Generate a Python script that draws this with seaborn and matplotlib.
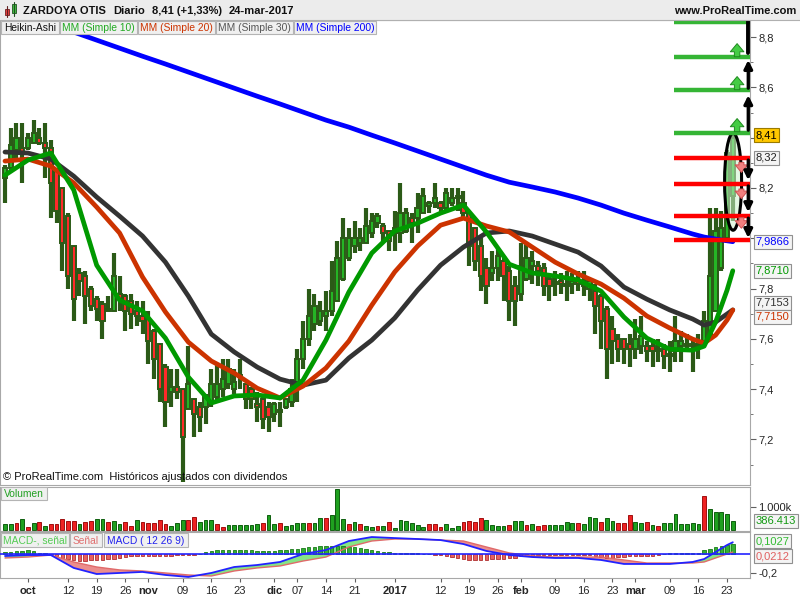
import numpy as np
import pandas as pd
import matplotlib
matplotlib.use("Agg")
import matplotlib.pyplot as plt
from matplotlib.patches import Rectangle, Ellipse
from matplotlib.ticker import MultipleLocator
import seaborn as sns

sns.set_style("white")
plt.rcParams["font.family"] = ["Liberation Sans", "DejaVu Sans"]
plt.rcParams["font.size"] = 8

# ---------------- data ----------------
trading_days = pd.bdate_range("2016-09-27", "2017-03-24").drop(pd.Timestamp("2016-12-26"))

ha_open = [8.24, 8.28, 8.35, 8.36, 8.36, 8.38, 8.40, 8.38, 8.36, 8.27,
           8.20, 8.09, 7.97, 7.86, 7.85, 7.80, 7.76, 7.74, 7.71, 7.71,
           7.78, 7.77, 7.75, 7.71, 7.69, 7.68, 7.63, 7.58, 7.49, 7.39,
           7.41, 7.40, 7.32, 7.36, 7.33, 7.33, 7.35, 7.37, 7.40, 7.42,
           7.40, 7.45, 7.42, 7.40, 7.34, 7.36, 7.33, 7.30, 7.31, 7.33,
           7.35, 7.40, 7.52, 7.60, 7.66, 7.67, 7.69, 7.71, 7.75, 7.84,
           7.92, 7.97, 7.98, 7.98, 8.02, 8.06, 8.05, 8.03, 8.02, 8.02,
           8.03, 8.08, 8.08, 8.10, 8.13, 8.14, 8.14, 8.12, 8.14, 8.16,
           8.14, 8.10, 8.04, 7.97, 7.88, 7.86, 7.88, 7.91, 7.87, 7.81,
           7.78, 7.84, 7.89, 7.89, 7.88, 7.84, 7.82, 7.83, 7.81, 7.82,
           7.83, 7.82, 7.80, 7.79, 7.77, 7.72, 7.64, 7.60, 7.60, 7.58,
           7.56, 7.57, 7.57, 7.57, 7.55, 7.56, 7.54, 7.55, 7.57, 7.58,
           7.57, 7.57, 7.59, 7.61, 7.71, 7.88, 8.00, 8.17]
ha_high = [8.29, 8.44, 8.46, 8.46, 8.42, 8.47, 8.44, 8.46, 8.39, 8.28,
           8.20, 8.10, 7.97, 7.88, 7.87, 7.81, 7.77, 7.75, 7.77, 7.94,
           7.85, 7.78, 7.78, 7.75, 7.75, 7.71, 7.64, 7.58, 7.50, 7.48,
           7.48, 7.40, 7.57, 7.36, 7.35, 7.38, 7.48, 7.50, 7.52, 7.52,
           7.48, 7.52, 7.42, 7.41, 7.39, 7.37, 7.35, 7.35, 7.35, 7.36,
           7.44, 7.56, 7.67, 7.80, 7.78, 7.75, 7.79, 7.91, 7.99, 8.08,
           8.04, 8.07, 8.04, 8.12, 8.10, 8.10, 8.06, 8.03, 8.11, 8.22,
           8.12, 8.10, 8.18, 8.20, 8.15, 8.22, 8.15, 8.20, 8.20, 8.20,
           8.19, 8.10, 8.04, 8.00, 7.92, 7.95, 7.96, 7.93, 7.89, 7.85,
           7.98, 7.98, 7.95, 7.91, 7.90, 7.85, 7.87, 7.86, 7.87, 7.86,
           7.87, 7.87, 7.83, 7.82, 7.78, 7.73, 7.69, 7.62, 7.60, 7.62,
           7.68, 7.69, 7.59, 7.60, 7.60, 7.58, 7.59, 7.69, 7.63, 7.62,
           7.60, 7.62, 7.71, 8.12, 8.12, 8.11, 8.35, 8.42]
ha_low = [8.14, 8.27, 8.31, 8.22, 8.35, 8.38, 8.37, 8.24, 8.08, 8.06,
          7.87, 7.80, 7.67, 7.77, 7.66, 7.71, 7.67, 7.60, 7.71, 7.71,
          7.71, 7.63, 7.64, 7.65, 7.62, 7.50, 7.44, 7.35, 7.25, 7.33,
          7.36, 7.03, 7.32, 7.21, 7.23, 7.26, 7.33, 7.35, 7.37, 7.40,
          7.38, 7.40, 7.32, 7.32, 7.27, 7.24, 7.23, 7.27, 7.25, 7.32,
          7.33, 7.35, 7.48, 7.57, 7.63, 7.65, 7.63, 7.69, 7.75, 7.83,
          7.91, 7.94, 7.95, 7.98, 8.00, 8.04, 7.99, 7.95, 7.95, 7.98,
          8.02, 7.98, 8.02, 8.10, 8.10, 8.12, 8.10, 8.11, 8.13, 8.11,
          8.08, 7.89, 7.87, 7.79, 7.74, 7.83, 7.83, 7.75, 7.67, 7.65,
          7.75, 7.83, 7.82, 7.81, 7.77, 7.75, 7.77, 7.78, 7.75, 7.78,
          7.79, 7.77, 7.75, 7.62, 7.56, 7.44, 7.50, 7.51, 7.50, 7.49,
          7.52, 7.54, 7.51, 7.49, 7.51, 7.48, 7.47, 7.51, 7.51, 7.56,
          7.47, 7.52, 7.58, 7.60, 7.71, 7.87, 7.98, 8.07]
ha_close = [8.28, 8.37, 8.40, 8.34, 8.40, 8.42, 8.38, 8.36, 8.22, 8.11,
            7.98, 7.85, 7.76, 7.83, 7.77, 7.73, 7.72, 7.67, 7.72, 7.85,
            7.76, 7.71, 7.70, 7.69, 7.67, 7.59, 7.52, 7.40, 7.35, 7.41,
            7.39, 7.21, 7.42, 7.30, 7.29, 7.37, 7.42, 7.42, 7.44, 7.48,
            7.43, 7.45, 7.36, 7.36, 7.33, 7.28, 7.29, 7.34, 7.31, 7.36,
            7.40, 7.52, 7.60, 7.69, 7.73, 7.71, 7.71, 7.79, 7.92, 8.00,
            8.00, 8.00, 8.00, 8.05, 8.07, 8.09, 8.02, 7.99, 8.04, 8.10,
            8.10, 8.06, 8.12, 8.17, 8.14, 8.16, 8.12, 8.18, 8.16, 8.16,
            8.10, 7.97, 7.91, 7.85, 7.81, 7.88, 7.93, 7.85, 7.75, 7.75,
            7.89, 7.92, 7.91, 7.87, 7.81, 7.81, 7.82, 7.82, 7.81, 7.83,
            7.82, 7.81, 7.83, 7.73, 7.67, 7.56, 7.59, 7.56, 7.56, 7.56,
            7.60, 7.61, 7.55, 7.55, 7.55, 7.53, 7.53, 7.59, 7.59, 7.57,
            7.57, 7.58, 7.67, 7.85, 8.03, 8.04, 8.34, 8.40]

ma_days = [0, 4, 8, 12, 16, 20, 24, 28, 32, 36, 40, 44, 48, 52, 56, 60, 64, 68, 72, 76,
           80, 84, 88, 92, 96, 100, 104, 108, 112, 116, 120, 122, 124, 126, 127]
sma10 = [8.251, 8.311, 8.339, 8.192, 7.893, 7.754, 7.711, 7.603, 7.448, 7.345,
         7.373, 7.377, 7.365, 7.436, 7.595, 7.786, 7.941, 8.029, 8.060, 8.100,
         8.132, 8.025, 7.897, 7.862, 7.850, 7.834, 7.790, 7.687, 7.603, 7.559,
         7.555, 7.571, 7.667, 7.794, 7.871]
sma20 = [8.307, 8.315, 8.287, 8.220, 8.124, 8.021, 7.846, 7.707, 7.587, 7.512,
         7.464, 7.404, 7.365, 7.412, 7.484, 7.591, 7.734, 7.866, 7.969, 8.052,
         8.080, 8.049, 8.025, 7.965, 7.905, 7.858, 7.818, 7.762, 7.691, 7.643,
         7.599, 7.583, 7.615, 7.675, 7.715]
sma30 = [8.343, 8.339, 8.315, 8.247, 8.164, 8.088, 8.009, 7.905, 7.770, 7.619,
         7.548, 7.488, 7.440, 7.416, 7.436, 7.524, 7.595, 7.683, 7.794, 7.893,
         7.965, 8.021, 8.029, 8.009, 7.977, 7.945, 7.890, 7.806, 7.758, 7.715,
         7.679, 7.655, 7.667, 7.699, 7.7153]
sma200 = [8.915, 8.883, 8.852, 8.820, 8.788, 8.756, 8.724, 8.693, 8.661, 8.629,
          8.597, 8.565, 8.534, 8.502, 8.470, 8.442, 8.410, 8.379, 8.347, 8.315,
          8.283, 8.251, 8.223, 8.204, 8.184, 8.160, 8.132, 8.100, 8.072, 8.045,
          8.017, 8.005, 7.997, 7.990, 7.9866]

volume_k = [261, 261, 290, 478, 116, 290, 333, 174, 261, 261,
            464, 391, 391, 261, 333, 391, 464, 464, 362, 406,
            261, 362, 188, 420, 333, 319, 319, 420, 261, 159,
            290, 420, 420, 551, 348, 420, 420, 261, 130, 232,
            232, 232, 232, 232, 261, 304, 652, 261, 290, 188,
            232, 304, 304, 290, 290, 522, 522, 652, 1768, 464,
            246, 348, 261, 174, 145, 174, 174, 348, 72, 435,
            406, 290, 217, 145, 261, 261, 145, 261, 72, 188,
            333, 391, 362, 507, 435, 217, 188, 188, 217, 391,
            391, 217, 261, 188, 217, 217, 217, 217, 333, 290,
            290, 261, 551, 507, 333, 536, 391, 290, 290, 652,
            333, 319, 333, 217, 174, 290, 290, 696, 261, 261,
            290, 261, 1478, 898, 768, 768, 696, 386.413]
volume_up = [1, 1, 0, 1, 0, 1, 0, 1, 0, 0,
             0, 0, 0, 1, 0, 0, 1, 1, 0, 1,
             1, 0, 0, 1, 0, 0, 0, 0, 0, 1,
             1, 1, 0, 0, 1, 1, 1, 0, 0, 1,
             1, 1, 1, 1, 1, 0, 1, 1, 0, 1,
             1, 1, 1, 0, 1, 1, 0, 1, 1, 1,
             0, 1, 0, 1, 1, 0, 1, 0, 1, 1,
             1, 1, 1, 1, 0, 0, 0, 1, 1, 1,
             0, 0, 0, 0, 1, 1, 1, 1, 0, 1,
             1, 0, 1, 0, 0, 1, 1, 1, 1, 1,
             0, 1, 1, 1, 0, 1, 1, 0, 0, 0,
             1, 1, 0, 1, 0, 1, 1, 1, 1, 1,
             1, 1, 0, 1, 1, 1, 1, 1]

macd_line = [-0.021, -0.011, -0.011, -0.147, -0.211, -0.200, -0.189, -0.221, -0.242, -0.200,
             -0.137, -0.116, -0.084, 0.000, 0.042, 0.137, 0.179, 0.168, 0.158, 0.147,
             0.105, 0.032, -0.011, -0.032, -0.042, -0.042, -0.063, -0.105, -0.105, -0.105,
             -0.084, -0.053, 0.021, 0.095, 0.1239]
signal_line = [-0.042, -0.032, -0.011, -0.084, -0.137, -0.168, -0.179, -0.200, -0.221, -0.232,
               -0.179, -0.147, -0.126, -0.074, -0.032, 0.074, 0.137, 0.158, 0.158, 0.147,
               0.137, 0.074, 0.011, -0.021, -0.032, -0.032, -0.032, -0.063, -0.095, -0.095,
               -0.095, -0.084, -0.042, 0.000, 0.0212]
macd_hist = [0.025, 0.025, 0.03, 0.03, 0.04, 0.03, 0.013, 0.006, -0.006,
             -0.02, -0.04, -0.057, -0.063, -0.07, -0.07, -0.063, -0.063, -0.063, -0.057, -0.05, -0.044, -0.032, -0.025,
             -0.02, -0.02, -0.025, -0.025, -0.02, -0.02, -0.02, -0.013, -0.013, -0.013, -0.006,
             0.0,
             0.025, 0.032, 0.038, 0.038, 0.038, 0.038, 0.038, 0.038, 0.038,
             0.032, 0.032, 0.032, 0.032, 0.038, 0.044,
             0.05, 0.057, 0.063, 0.07, 0.076,
             0.082, 0.088, 0.088, 0.088, 0.082, 0.076, 0.07,
             0.063, 0.05, 0.044, 0.032, 0.025,
             0.019, 0.013, 0.013,
             0.013, 0.006, 0.006, 0.0, 0.0,
             -0.006, -0.013, -0.019, -0.032, -0.044, -0.057, -0.063, -0.063, -0.063, -0.063, -0.057, -0.057, -0.05, -0.044, -0.038,
             -0.025, -0.019, -0.019, -0.013, -0.013, -0.013, -0.013, -0.013, -0.013, -0.006, -0.006, -0.006, -0.013,
             -0.025, -0.032, -0.038, -0.038, -0.032, -0.032, -0.025, -0.025, -0.025, -0.019, -0.019, -0.013,
             0.0,
             0.006, 0.01, 0.013, 0.013, 0.013, 0.013,
             0.038, 0.057, 0.076, 0.088, 0.095, 0.1027]

green_levels = [8.86, 8.72, 8.59, 8.42]
red_levels = [8.32, 8.215, 8.09, 7.993]

tick_dates = ["2016-10-03", "2016-10-12", "2016-10-19", "2016-10-26", "2016-11-01", "2016-11-09",
              "2016-11-16", "2016-11-23", "2016-12-01", "2016-12-07", "2016-12-14", "2016-12-21",
              "2017-01-02", "2017-01-12", "2017-01-19", "2017-01-26", "2017-02-01", "2017-02-09",
              "2017-02-16", "2017-02-23", "2017-03-01", "2017-03-09", "2017-03-16", "2017-03-23"]
tick_labels = ["oct", "12", "19", "26", "nov", "09", "16", "23", "dic", "07", "14", "21",
               "2017", "12", "19", "26", "feb", "09", "16", "23", "mar", "09", "16", "23"]
bold_labels = {"oct", "nov", "dic", "2017", "feb", "mar"}

# ---------------- figure ----------------
W, H = 800, 600
fig = plt.figure(figsize=(8, 6), dpi=100)
fig.patch.set_facecolor("white")


def rect(l, t, r, b):
    return [l / W, 1 - b / H, (r - l) / W, (b - t) / H]


ax = fig.add_axes(rect(0, 20, 750, 485))
axv = fig.add_axes(rect(0, 487, 750, 531), sharex=ax)
axm = fig.add_axes(rect(0, 532, 750, 578), sharex=ax)

SPINE = "#a8a8a8"
for a in (ax, axv, axm):
    for s in a.spines.values():
        s.set_color(SPINE)
        s.set_linewidth(0.8)
    a.tick_params(axis="x", bottom=False, labelbottom=False)
    a.tick_params(axis="y", left=False, labelleft=False, right=True, labelright=True,
                  direction="out", length=4, width=0.8, color="#606060", labelsize=8, pad=2)

x = np.arange(len(ha_open))
o = np.array(ha_open)
c = np.array(ha_close)
DARK = "#2b5a17"

# Heikin-Ashi candles
ax.vlines(x, ha_low, ha_high, color=DARK, lw=3.0, zorder=2)
body_h = np.abs(c - o)
body_col = np.where(body_h < 0.006, DARK, np.where(c > o, "#25b525", "#ff2a2a"))
ax.bar(x, np.maximum(body_h, 0.008), bottom=np.minimum(o, c), width=0.74,
       color=body_col, edgecolor=DARK, linewidth=1.4, zorder=3)

# moving averages
for vals, col in [(sma200, "#0000ff"), (sma30, "#333333"), (sma20, "#cc3300"), (sma10, "#009900")]:
    sns.lineplot(x=ma_days, y=vals, ax=ax, color=col, linewidth=3.4, zorder=4)

# drawn levels
ax.hlines(green_levels, 116.75, 130.0, color="#35b535", lw=3.2, zorder=6)
ax.hlines(red_levels, 116.75, 130.0, color="#ff0000", lw=3.2, zorder=6)
ax.add_patch(Ellipse((127.05, 8.225), width=2.97, height=0.386, facecolor=(0.8, 0.95, 0.8, 0.55),
                     edgecolor="black", lw=2.2, zorder=5))
arrow_style = "simple,head_width=0.75,head_length=0.45,tail_width=0.3"
for y0, y1 in [(8.424, 8.476), (8.591, 8.643), (8.722, 8.774)]:
    ax.annotate("", xy=(127.75, y1), xytext=(127.75, y0),
                arrowprops=dict(arrowstyle=arrow_style, fc="#44cc44", ec="#1e8a1e", lw=0.7,
                                mutation_scale=13, shrinkA=0, shrinkB=0), zorder=7)
for y0, y1 in [(8.302, 8.262), (8.196, 8.158), (8.082, 8.040)]:
    ax.annotate("", xy=(128.5, y1), xytext=(128.5, y0),
                arrowprops=dict(arrowstyle=arrow_style, fc="#f08080", ec="#d05050", lw=0.7,
                                mutation_scale=12, shrinkA=0, shrinkB=0), zorder=7)
for y0, y1 in [(8.430, 8.569), (8.597, 8.709)]:
    ax.annotate("", xy=(129.7, y1), xytext=(129.7, y0),
                arrowprops=dict(arrowstyle="-|>,head_width=0.3,head_length=0.6", color="black", lw=2.4,
                                shrinkA=0, shrinkB=0),
                zorder=7, annotation_clip=False)
ax.plot([129.7, 129.7], [8.736, 8.868], color="black", lw=2.8, zorder=7, clip_on=False)
for y0, y1 in [(8.311, 8.231), (8.208, 8.104), (8.080, 8.001)]:
    ax.annotate("", xy=(129.7, y1), xytext=(129.7, y0),
                arrowprops=dict(arrowstyle="-|>,head_width=0.3,head_length=0.6", color="black", lw=2.4,
                                shrinkA=0, shrinkB=0),
                zorder=7, annotation_clip=False)

ax.set_ylim(7.019, 8.868)
ax.set_yticks([7.2, 7.4, 7.6, 7.8, 8.0, 8.2, 8.4, 8.6, 8.8])
ax.set_yticklabels(["7,2", "7,4", "7,6", "7,8", "", "8,2", "", "8,6", "8,8"])
ax.yaxis.set_minor_locator(MultipleLocator(0.1))
ax.tick_params(axis="y", which="minor", right=True, length=2.5, color="#606060")


def value_box(a, val, txt, fc, tc, ec="#909090", dy=0):
    a.annotate(txt, xy=(1.0, val), xycoords=a.get_yaxis_transform(), xytext=(4, dy),
               textcoords="offset points", ha="left", va="center", fontsize=8, color=tc,
               bbox=dict(boxstyle="square,pad=0.18", fc=fc, ec=ec, lw=0.8), annotation_clip=False, zorder=10)


value_box(ax, 8.41, "8,41", "#ffc800", "black", ec="#9a7a00")
value_box(ax, 8.32, "8,32", "#f4f4f4", "#222222")
value_box(ax, 7.9866, "7,9866", "#f4f4f4", "#0000ff")
value_box(ax, 7.871, "7,8710", "#f4f4f4", "#009900")
value_box(ax, 7.7153, "7,7153", "#f4f4f4", "#333333", dy=5)
value_box(ax, 7.7150, "7,7150", "#f4f4f4", "#cc3300", dy=-5)

# volume
vcol = ["#1fa01f" if u else "#ee2222" for u in volume_up]
vedge = ["#0f5f0f" if u else "#a01010" for u in volume_up]
axv.bar(x, volume_k, width=0.66, color=vcol, edgecolor=vedge, linewidth=0.7, zorder=2)
axv.set_ylim(-43, 1870)
axv.set_yticks([1000])
axv.set_yticklabels(["1.000k"])
value_box(axv, 386.413, "386.413", "#f4f4f4", "#119911")

# MACD
mx = np.array(ma_days)
ml = np.array(macd_line)
sl = np.array(signal_line)
axm.fill_between(mx, ml, sl, where=ml >= sl, interpolate=True, color="#86e486", lw=0, zorder=1)
axm.fill_between(mx, ml, sl, where=ml < sl, interpolate=True, color="#eb8d8d", lw=0, zorder=1)
hcol = ["#33b033" if v >= 0 else "#e86060" for v in macd_hist]
hedge = ["#1a7a1a" if v >= 0 else "#b03030" for v in macd_hist]
axm.bar(x, macd_hist, width=0.6, color=hcol, edgecolor=hedge, linewidth=0.6, zorder=2)
axm.axhline(0, color="#2222ff", lw=1.2, zorder=4)
sns.lineplot(x=ma_days, y=signal_line, ax=axm, color="#e06a6a", linewidth=1.0, zorder=3)
sns.lineplot(x=ma_days, y=macd_line, ax=axm, color="#2222ff", linewidth=1.3, zorder=3)
axm.set_ylim(-0.253, 0.232)
axm.set_yticks([-0.2])
axm.set_yticklabels(["-0,2"])
value_box(axm, 0.1027, "0,1027", "#f4f4f4", "#33bb33", dy=2)
value_box(axm, 0.0212, "0,0212", "#f4f4f4", "#e06060", dy=-3)

tick_pos = [trading_days.get_loc(pd.Timestamp(d)) for d in tick_dates]
axm.set_xticks(tick_pos)
axm.set_xticklabels(tick_labels)
axm.tick_params(axis="x", bottom=True, labelbottom=True, direction="out", length=3,
                width=0.8, color="#606060", pad=3, labelsize=8)
for t in axm.get_xticklabels():
    if t.get_text() in bold_labels:
        t.set_fontweight("bold")
for a in (ax, axv, axm):
    a.set_xlabel("")
    a.set_ylabel("")
ax.set_xlim(-0.87, 130.0)

# ---------------- overlay (header, legends) ----------------
ov = fig.add_axes([0, 0, 1, 1], zorder=20)
ov.set_xlim(0, W)
ov.set_ylim(H, 0)
ov.axis("off")
ov.patch.set_alpha(0)

ov.add_patch(Rectangle((0, 0), W, 20, fc="#ececec", ec="none"))
ov.plot([0, W], [20, 20], color="#b0b0b0", lw=0.8)
# candle icon
ov.plot([7, 7], [6, 17], color="#602020", lw=0.8)
ov.add_patch(Rectangle((5, 9), 4, 6, fc="#e84040", ec="#702020", lw=0.6))
ov.plot([14, 14], [2, 16], color="#205020", lw=0.8)
ov.add_patch(Rectangle((12, 4), 4, 9, fc="#40c040", ec="#205020", lw=0.6))

hdr = dict(fontsize=8, fontweight="bold", va="center", ha="left", color="#111111")
ov.text(23, 11, "ZARDOYA OTIS", **hdr)
ov.text(113, 11, "Diario", **hdr)
ov.text(152, 11, "8,41 (+1,33%)", **hdr)
ov.text(229, 11, "24-mar-2017", **hdr)
ov.text(796, 11, "www.ProRealTime.com", fontsize=8, fontweight="bold", va="center", ha="right",
        color="#111111")


def label_box(x0, x1, y0, y1, txt, col):
    ov.add_patch(Rectangle((x0, y0), x1 - x0, y1 - y0, fc="#f0f0f0", ec="#b4b4b4", lw=0.8))
    ov.text((x0 + x1) / 2, (y0 + y1) / 2 + 0.5, txt, fontsize=7.4, color=col, va="center", ha="center")


label_box(1, 59, 21, 34, "Heikin-Ashi", "#111111")
label_box(60, 137, 21, 34, "MM (Simple 10)", "#22aa22")
label_box(138, 215, 21, 34, "MM (Simple 20)", "#cc3300")
label_box(216, 293, 21, 34, "MM (Simple 30)", "#555555")
label_box(294, 376, 21, 34, "MM (Simple 200)", "#0000ff")
label_box(1, 47, 487, 500, "Volumen", "#22a022")
label_box(1, 69, 533, 547, "MACD-, señal", "#55cc55")
label_box(70, 102, 533, 547, "Señal", "#e07070")
label_box(104, 188, 533, 547, "MACD ( 12 26 9)", "#2222ee")

ov.text(3, 477, "© ProRealTime.com  Históricos ajustados con dividendos", fontsize=8,
        va="center", ha="left", color="#111111")

fig.savefig("out.png", dpi=100)
